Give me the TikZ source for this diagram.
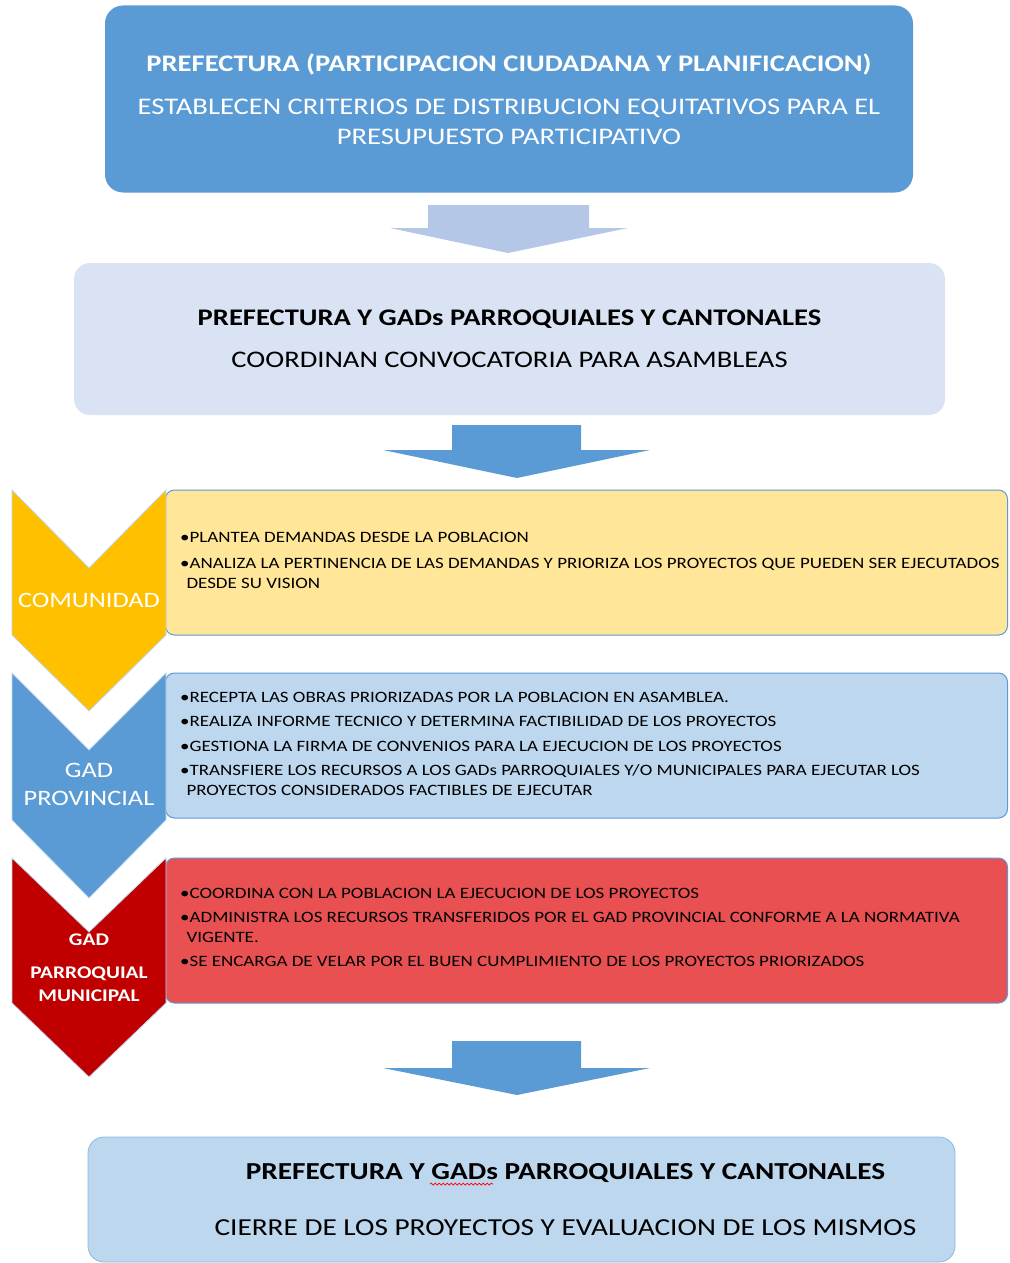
\documentclass[tikz,border=0pt]{standalone}
\usepackage{fontspec}
\setmainfont{Carlito}[FakeStretch=1.2]
\usetikzlibrary{positioning,calc,decorations.pathmorphing}
\definecolor{azul}{HTML}{5B9BD5}
\definecolor{azulclaro}{HTML}{B4C7E7}
\definecolor{azulpalido}{HTML}{DAE3F3}
\definecolor{celeste}{HTML}{BDD7EE}
\definecolor{oro}{HTML}{FFC000}
\definecolor{crema}{HTML}{FFE699}
\definecolor{granate}{HTML}{C00000}
\definecolor{rojo}{HTML}{E85052}
\tikzset{
  caja/.style={rounded corners=16pt, inner sep=0pt, align=center},
  tarea/.style={draw=azul, line width=1pt, rounded corners=9pt, inner sep=0pt,
    minimum width=842pt, minimum height=145pt, anchor=west},
  lista/.style={anchor=west, align=left, inner sep=0pt, font=\fontsize{15.8}{20}\selectfont},
  etiqueta/.style={text=white, align=center, inner sep=0pt},
  flecha/.style={draw=azul!40, line width=0.8pt}
}
\newcommand{\vin}{\textbullet}
\newcommand{\sig}{\hspace*{0.4em}}
\begin{document}
\begin{tikzpicture}[x=1pt,y=-1pt]
\useasboundingbox (0,0) rectangle (1009,1263);
% top
\node[caja, fill=azul, rounded corners=18pt, minimum width=808pt, minimum height=187pt,
  text=white, font=\fontsize{23.8}{30}\selectfont] (criterios) at (509,99)
  {\textbf{PREFECTURA (PARTICIPACION CIUDADANA Y PLANIFICACION)}\\[13pt]
   ESTABLECEN CRITERIOS DE DISTRIBUCION EQUITATIVOS PARA EL\\
   PRESUPUESTO PARTICIPATIVO};
\fill[azulclaro] (428,205) -- (589,205) -- (589,228) -- (628,228) -- (508,253)
  -- (390,228) -- (428,228) -- cycle;
\node[caja, fill=azulpalido, minimum width=871pt, minimum height=152pt,
  font=\fontsize{23.8}{28}\selectfont] (convocatoria) at (509.5,339)
  {\textbf{PREFECTURA Y GADs PARROQUIALES Y CANTONALES}\\[14pt]
   COORDINAN CONVOCATORIA PARA ASAMBLEAS};
\fill[azul] (452,425) -- (581,425) -- (581,450) -- (650,450) -- (517,478)
  -- (383,450) -- (452,450) -- cycle;
\begin{scope}[shift={(0,490)}] %COMUNIDAD
\node[tarea, fill=crema] (tareasA) at (165,72.5) {};
\filldraw[fill=oro, flecha] (12,0) -- (89,78) -- (166,0) -- (166,145) -- (89,221)
  -- (12,145) -- cycle;
\node[etiqueta, font=\fontsize{22}{26}\selectfont] (comunidad) at (89,110) {COMUNIDAD};
\node[lista] (listaA) at (180,70)
  {\vin PLANTEA DEMANDAS DESDE LA POBLACION\\[6pt]
   \vin ANALIZA LA PERTINENCIA DE LAS DEMANDAS Y PRIORIZA LOS PROYECTOS QUE PUEDEN SER EJECUTADOS\\
   \sig DESDE SU VISION};
\end{scope}
\begin{scope}[shift={(0,673)}] %GAD PROVINCIAL
\node[tarea, fill=celeste] (tareasB) at (165,72.5) {};
\filldraw[fill=azul, flecha] (12,0) -- (89,77) -- (166,0) -- (166,147) -- (89,225)
  -- (12,147) -- cycle;
\node[etiqueta, font=\fontsize{22}{28}\selectfont] (provincial) at (89,111) {GAD\\PROVINCIAL};
\node[lista] (listaB) at (180,71)
  {\vin RECEPTA LAS OBRAS PRIORIZADAS POR LA POBLACION EN ASAMBLEA.\\[4.5pt]
   \vin REALIZA INFORME TECNICO Y DETERMINA FACTIBILIDAD DE LOS PROYECTOS\\[4.5pt]
   \vin GESTIONA LA FIRMA DE CONVENIOS PARA LA EJECUCION DE LOS PROYECTOS\\[4.5pt]
   \vin TRANSFIERE LOS RECURSOS A LOS GADs PARROQUIALES Y/O MUNICIPALES PARA EJECUTAR LOS\\
   \sig PROYECTOS CONSIDERADOS FACTIBLES DE EJECUTAR};
\end{scope}
\begin{scope}[shift={(0,858)}] %GAD PARROQUIAL
\node[tarea, fill=rojo] (tareasC) at (165,72.5) {};
\filldraw[fill=granate, flecha] (12,0) -- (89,74) -- (166,0) -- (166,145) -- (89,219)
  -- (12,145) -- cycle;
\node[etiqueta, font=\bfseries\fontsize{17.8}{23}\selectfont] (parroquial) at (89,110)
  {GAD\\[10pt]PARROQUIAL\\MUNICIPAL};
\node[lista] (listaC) at (180,69.5)
  {\vin COORDINA CON LA POBLACION LA EJECUCION DE LOS PROYECTOS\\[4pt]
   \vin ADMINISTRA LOS RECURSOS TRANSFERIDOS POR EL GAD PROVINCIAL CONFORME A LA NORMATIVA\\
   \sig VIGENTE.\\[4pt]
   \vin SE ENCARGA DE VELAR POR EL BUEN CUMPLIMIENTO DE LOS PROYECTOS PRIORIZADOS};
\end{scope}
\fill[azul] (452,1041) -- (581,1041) -- (581,1068) -- (650,1068) -- (517,1095)
  -- (383,1068) -- (452,1068) -- cycle;
% bottom
\node[caja, fill=celeste, draw=azul!70, line width=0.8pt, minimum width=867pt,
  minimum height=125pt] (cierre) at (521.5,1199.5) {};
\node[caja, font=\fontsize{24.4}{28}\selectfont] (cierreTxt) at ($(cierre.center)+(44,0)$)
  {\textbf{PREFECTURA Y GADs PARROQUIALES Y CANTONALES}\\[28pt]
   CIERRE DE LOS PROYECTOS Y EVALUACION DE LOS MISMOS};
\draw[red, line width=0.7pt, decorate, decoration={snake, amplitude=1pt, segment length=4pt}]
  (430,1184) -- (493,1184);
\end{tikzpicture}
\end{document}
